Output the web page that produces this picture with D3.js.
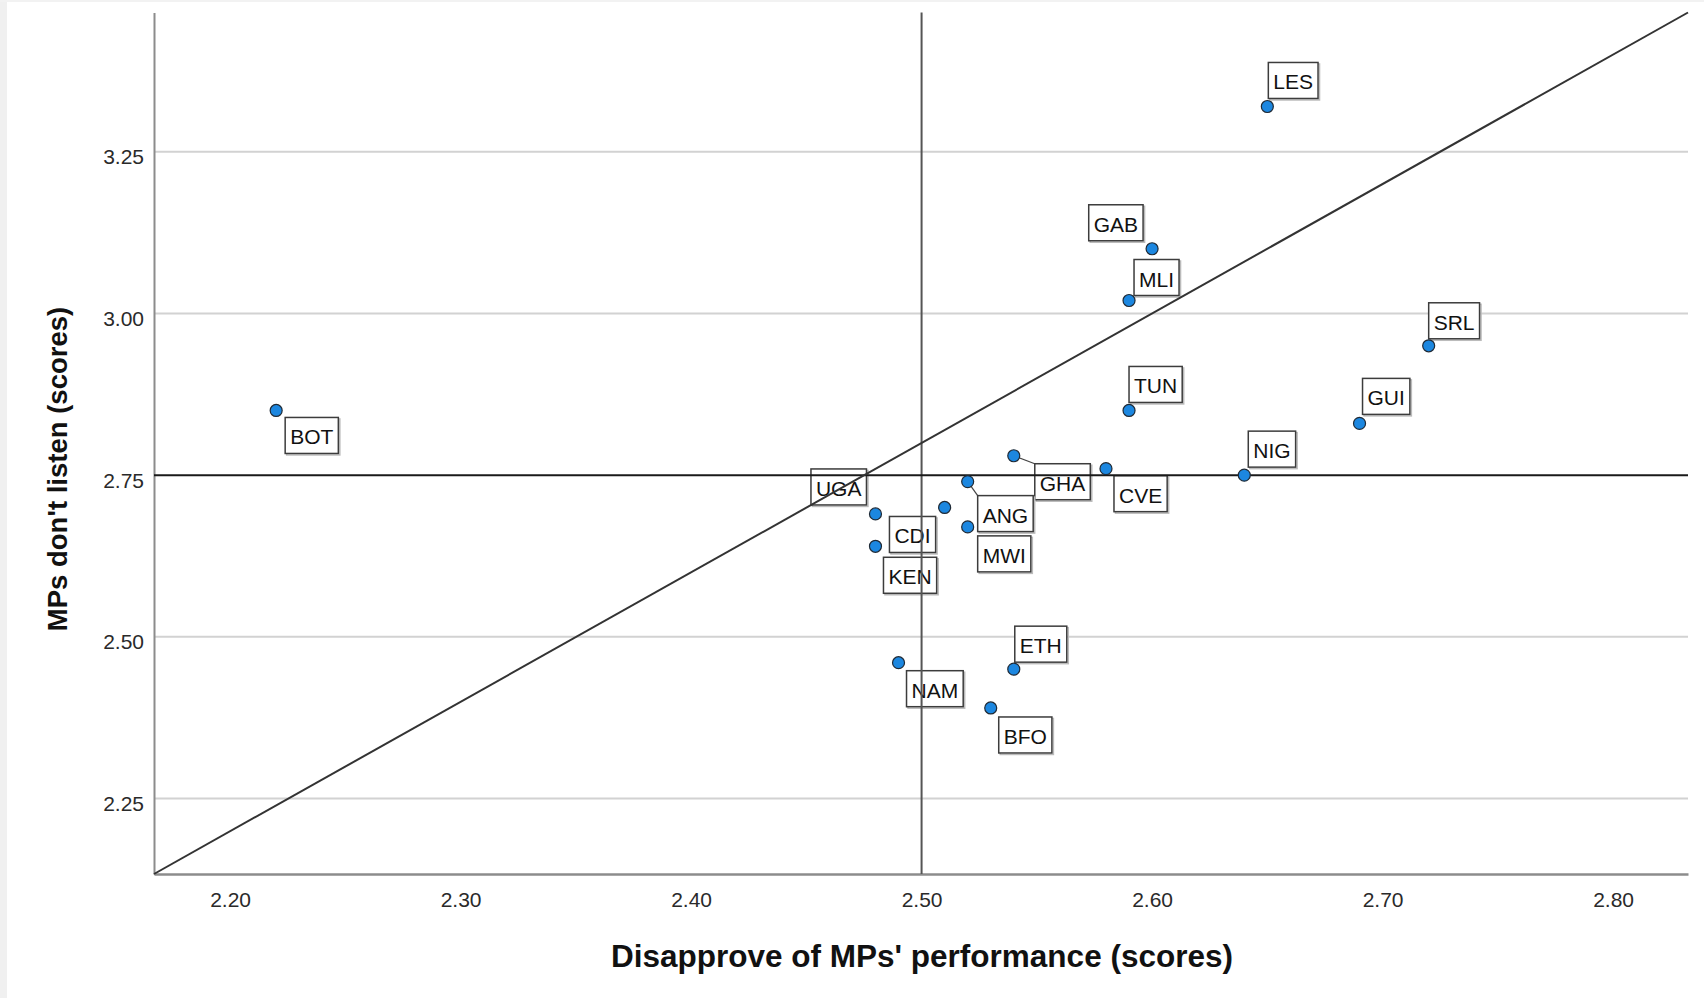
<!DOCTYPE html>
<html>
<head>
<meta charset="utf-8">
<script src="https://cdn.jsdelivr.net/npm/d3@7"></script>
<style>
  body { margin: 0; background: #fff; }
  svg { display: block; font-family: "Liberation Sans", Arial, sans-serif; }
</style>
</head>
<body>
<div id="chart"></div>
<script>
// country codes and their two scores
const countries  = ["LES", "GAB", "MLI", "SRL", "TUN", "GUI", "BOT", "NIG", "GHA",
                    "CVE", "ANG", "UGA", "CDI", "MWI", "KEN", "NAM", "ETH", "BFO"];
const disapprove = [2.65, 2.60, 2.59, 2.72, 2.59, 2.69, 2.22, 2.64, 2.54,
                    2.58, 2.52, 2.48, 2.51, 2.52, 2.48, 2.49, 2.54, 2.53];
const dontListen = [3.32, 3.10, 3.02, 2.95, 2.85, 2.83, 2.85, 2.75, 2.78,
                    2.76, 2.74, 2.69, 2.70, 2.67, 2.64, 2.46, 2.45, 2.39];

const xTicks = [2.20, 2.30, 2.40, 2.50, 2.60, 2.70, 2.80];
const yTicks = [2.25, 2.50, 2.75, 3.00, 3.25];
const xDomain = [2.167, 2.8325];
const yDomain = [2.1333, 3.4653];
const refX = 2.50;   // vertical reference line
const refY = 2.75;   // horizontal reference line

const xTitle = "Disapprove of MPs' performance (scores)";
const yTitle = "MPs don't listen (scores)";

// where each label box sits relative to its point: corner, gap x, gap y (px)
const labelPlace = {
    LES: ["ur", 1, 8],  GAB: ["ul", 9, 8],  MLI: ["ur", 5, 5],  SRL: ["ur", 0, 7],
    TUN: ["ur", 0, 8],  GUI: ["ur", 3, 9],  BOT: ["lr", 9, 7],  NIG: ["ur", 4, 8],
    GHA: ["lr", 21, 8], CVE: ["lr", 8, 7],  ANG: ["lr", 10, 14], UGA: ["ul", 9, 9],
    CDI: ["ll", 9, 9],  MWI: ["lr", 10, 9], KEN: ["lr", 8, 11], NAM: ["lr", 8, 8],
    ETH: ["ur", 1, 7],  BFO: ["lr", 8, 9]
};

const width = 1704, height = 998;
const margin = {top: 12.5, right: 16, bottom: 124, left: 154};

let svg = d3.select("#chart").append("svg")
    .attr("width", width)
    .attr("height", height);

svg.append("rect").attr("width", width).attr("height", height).attr("fill", "#fff");
// light frame strips from the screenshot
svg.append("rect").attr("width", 7).attr("height", height).attr("fill", "#f0f0f0");
svg.append("rect").attr("width", width).attr("height", 2).attr("fill", "#f2f2f2");

let x = d3.scaleLinear().domain(xDomain).range([margin.left, width - margin.right]);
let y = d3.scaleLinear().domain(yDomain).range([height - margin.bottom, margin.top]);

let points = countries.map((c, i) => ({code: c, x: disapprove[i], y: dontListen[i]}));

// gridlines
svg.append("g").selectAll("line")
    .data(yTicks.filter(d => d !== refY))
    .enter().append("line")
    .attr("x1", x.range()[0]).attr("x2", x.range()[1])
    .attr("y1", d => y(d)).attr("y2", d => y(d))
    .attr("stroke", "#d2d2d2")
    .attr("stroke-width", 2);

// axes
svg.append("g")
    .attr("transform", "translate(0," + y.range()[0] + ")")
    .call(d3.axisBottom(x).tickValues(xTicks).tickFormat(d3.format(".2f"))
        .tickSize(0).tickSizeOuter(0).tickPadding(18))
    .call(g => g.select(".domain").attr("stroke", "#8c8c8c").attr("stroke-width", 2.5))
    .selectAll("text")
    .attr("font-size", 21).attr("fill", "#2a2a2a")
    .attr("font-family", "Liberation Sans, Arial, sans-serif");

svg.append("g")
    .attr("transform", "translate(" + x.range()[0] + ",0)")
    .call(d3.axisLeft(y).tickValues(yTicks).tickFormat(d3.format(".2f"))
        .tickSize(0).tickSizeOuter(0).tickPadding(10))
    .call(g => g.select(".domain").attr("stroke", "#8c8c8c").attr("stroke-width", 2))
    .selectAll("text")
    .attr("dy", "0.57em")
    .attr("font-size", 21).attr("fill", "#2a2a2a")
    .attr("font-family", "Liberation Sans, Arial, sans-serif");

// label boxes
let labels = svg.append("g").selectAll("g")
    .data(points)
    .enter().append("g");

labels.each(function(d) {
    let g = d3.select(this);
    let t = g.append("text")
        .attr("font-size", 21)
        .attr("fill", "#111")
        .text(d.code);
    let w = t.node().getComputedTextLength() + 10;
    let h = 36;
    let px = x(d.x), py = y(d.y);
    let [corner, gx, gy] = labelPlace[d.code];
    let left = corner[1] === "r" ? px + gx : px - gx - w;
    let top = corner[0] === "u" ? py - gy - h : py + gy;
    // leader line only when the box sits far from its point
    let cx = corner[1] === "r" ? left : left + w;
    let cy = corner[0] === "u" ? top + h : top;
    if (Math.hypot(cx - px, cy - py) > 15) {
        g.insert("line", "text")
            .attr("x1", px).attr("y1", py).attr("x2", cx).attr("y2", cy)
            .attr("stroke", "#444").attr("stroke-width", 1.2);
    }
    g.insert("rect", "text")
        .attr("x", left + 1.5).attr("y", top + 1.5)
        .attr("width", w).attr("height", h)
        .attr("fill", "none").attr("stroke", "#bbb").attr("stroke-width", 1.5);
    g.insert("rect", "text")
        .attr("x", left).attr("y", top)
        .attr("width", w).attr("height", h)
        .attr("fill", "#fff").attr("stroke", "#3c3c3c").attr("stroke-width", 1.5);
    t.attr("x", left + 5).attr("y", top + 27);
});

// reference lines
svg.append("line")
    .attr("x1", x(refX)).attr("x2", x(refX))
    .attr("y1", y.range()[0]).attr("y2", y.range()[1])
    .attr("stroke", "#555").attr("stroke-width", 2);

svg.append("line")
    .attr("x1", x.range()[0]).attr("x2", x.range()[1])
    .attr("y1", y(refY)).attr("y2", y(refY))
    .attr("stroke", "#1a1a1a").attr("stroke-width", 2);

svg.append("line")
    .attr("x1", x(xDomain[0])).attr("y1", y(yDomain[0]))
    .attr("x2", x(xDomain[1])).attr("y2", y(yDomain[1]))
    .attr("stroke", "#333").attr("stroke-width", 2);

// points
svg.append("g").selectAll("circle")
    .data(points)
    .enter().append("circle")
    .attr("cx", d => x(d.x))
    .attr("cy", d => y(d.y))
    .attr("r", 6)
    .attr("fill", "#1c87e0")
    .attr("stroke", "#1f2a36")
    .attr("stroke-width", 1.2);

// axis titles
svg.append("text")
    .attr("x", 922).attr("y", 967)
    .attr("text-anchor", "middle")
    .attr("font-size", 31.5).attr("font-weight", "bold").attr("fill", "#111")
    .text(xTitle);

svg.append("text")
    .attr("transform", "translate(67,469) rotate(-90)")
    .attr("text-anchor", "middle")
    .attr("font-size", 27.5).attr("font-weight", "bold").attr("fill", "#111")
    .text(yTitle);
</script>
</body>
</html>
